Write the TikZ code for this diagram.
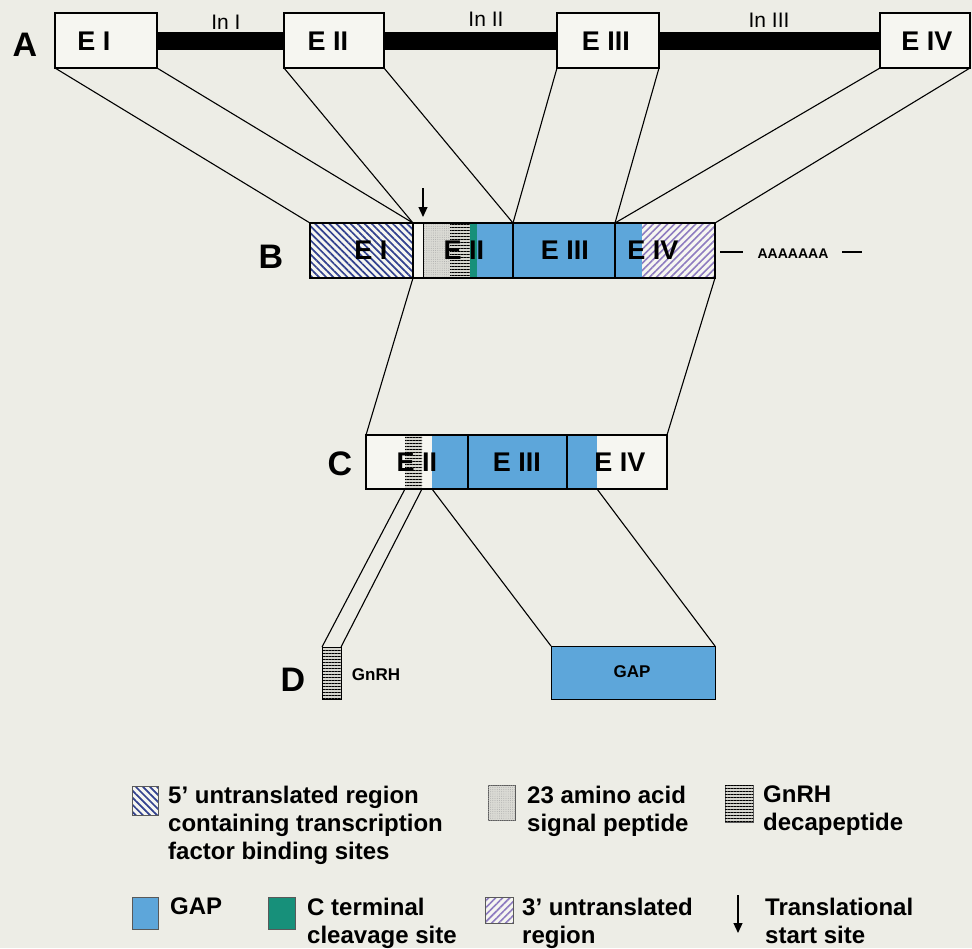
\documentclass[tikz,border=0pt]{standalone}
\usepackage{fontspec}
\setmainfont{Liberation Sans}
\usetikzlibrary{patterns.meta,arrows.meta}
\definecolor{bg}{HTML}{EDEDE6}
\definecolor{gapblue}{HTML}{5DA6DA}
\definecolor{tealc}{HTML}{17907A}
\definecolor{navyc}{HTML}{33428F}
\definecolor{lavc}{HTML}{8E7CC0}
\definecolor{boxw}{HTML}{F6F6F1}
\definecolor{stip}{HTML}{DADAD4}
\definecolor{hatchbg}{HTML}{D6D6CF}
\tikzset{
  exbox/.style={draw, line width=2.6pt, inner sep=0pt, outer sep=0pt, anchor=north west},
  dbox/.style={draw, line width=0.8pt, inner sep=0pt, outer sep=0pt, anchor=north west},
  elab/.style={font=\bfseries\fontsize{27}{27}\selectfont, inner sep=0pt},
  inlab/.style={font=\fontsize{21}{21}\selectfont, inner sep=0pt},
  biglab/.style={font=\bfseries\fontsize{34}{34}\selectfont, inner sep=0pt},
  smlab/.style={font=\bfseries\fontsize{17}{17}\selectfont, inner sep=0pt},
  legtext/.style={font=\bfseries\fontsize{24}{28}\selectfont, inner sep=0pt, anchor=north west, align=left},
  conn/.style={line width=1.1pt, black},
  intron/.style={line width=18pt, black, line cap=butt},
  startarrow/.style={line width=1.2pt, -{Triangle[length=10pt,width=9pt]}},
  utrfive/.style={pattern={Lines[angle=-45,distance=5pt,line width=1.7pt]}, pattern color=navyc},
  utrthree/.style={pattern={Lines[angle=45,distance=5pt,line width=1.6pt]}, pattern color=lavc},
  gnrhpat/.style={pattern={Lines[angle=0,distance=3pt,line width=1pt]}, pattern color=black},
  stippat/.style={pattern={Dots[distance=2.2pt,radius=0.45pt]}, pattern color=gray!70},
  swatch/.style={draw=gray!70!black, line width=0.8pt, inner sep=0pt, outer sep=0pt, anchor=north west},
}
\begin{document}
\begin{tikzpicture}[x=1pt,y=-1pt]
\fill[bg] (0,0) rectangle (972,948);
\useasboundingbox (0,0) rectangle (972,948);

% ---------- Row A ----------
\node[exbox, fill=boxw, minimum width=102pt, minimum height=55pt] (A1) at (55,13) {};
\node[exbox, fill=boxw, minimum width=100pt, minimum height=55pt] (A2) at (284,13) {};
\node[exbox, fill=boxw, minimum width=102pt, minimum height=55pt] (A3) at (557,13) {};
\node[exbox, fill=boxw, minimum width=90pt, minimum height=55pt] (A4) at (880,13) {};
\draw[intron] (A1) -- (A2);
\draw[intron] (A2) -- (A3);
\draw[intron] (A3) -- (A4);
\node[elab] (tA1) at (94,41) {E I};
\node[elab] (tA2) at (328,41) {E II};
\node[elab] (tA3) at (606,41) {E III};
\node[elab] (tA4) at (927,41) {E IV};
\node[inlab] (i1) at (226,22) {In I};
\node[inlab] (i2) at (486,19) {In II};
\node[inlab] (i3) at (769,20) {In III};
\node[biglab] (lA) at (25,45) {A};

% ---------- Row B fills ----------
\fill[boxw] (310,223) rectangle (413,278);
\fill[utrfive] (310,223) rectangle (413,278);
\fill[boxw] (413,223) rectangle (423,278);
\fill[stip] (423,223) rectangle (450,278);
\fill[stippat] (423,223) rectangle (450,278);
\fill[hatchbg] (450,223) rectangle (470,278);
\fill[gnrhpat] (450,223) rectangle (470,278);
\fill[tealc] (470,223) rectangle (477,278);
\fill[gapblue] (477,223) rectangle (642,278);
\fill[boxw] (642,223) rectangle (715,278);
\fill[utrthree] (642,223) rectangle (715,278);
\draw[line width=1pt] (423,223) -- (423,278);
\node[exbox, minimum width=103pt, minimum height=55pt] (BE1) at (310,223) {};
\node[exbox, minimum width=100pt, minimum height=55pt] (BE2) at (413,223) {};
\node[exbox, minimum width=102pt, minimum height=55pt] (BE3) at (513,223) {};
\node[exbox, minimum width=100pt, minimum height=55pt] (BE4) at (615,223) {};
\node[elab] (tB1) at (371,250) {E I};
\node[elab] (tB2) at (464,250) {E II};
\node[elab] (tB3) at (565,250) {E III};
\node[elab] (tB4) at (653,250) {E IV};
\node[biglab] (lB) at (271,257) {B};
\coordinate (st1) at (423,188);
\coordinate (st2) at (423,217);
\draw[startarrow] (st1) -- (st2);
\coordinate (pa1) at (720,252);
\coordinate (pa2) at (743,252);
\coordinate (pa3) at (842,252);
\coordinate (pa4) at (862,252);
\draw[line width=1.2pt] (pa1) -- (pa2);
\draw[line width=1.2pt] (pa3) -- (pa4);
\node[smlab, font=\bfseries\fontsize{14}{14}\selectfont] (polyA) at (793,254) {AAAAAAA};

% A -> B connectors
\draw[conn] (A1.south west) -- (BE1.north west);
\draw[conn] (A1.south east) -- (BE1.north east);
\draw[conn] (A2.south west) -- (BE2.north west);
\draw[conn] (A2.south east) -- (BE2.north east);
\draw[conn] (A3.south west) -- (BE3.north west);
\draw[conn] (A3.south east) -- (BE3.north east);
\draw[conn] (A4.south west) -- (BE4.north west);
\draw[conn] (A4.south east) -- (BE4.north east);

% ---------- Row C ----------
\fill[boxw] (366,435) rectangle (667,489);
\node[inner sep=0pt, outer sep=0pt, anchor=north west, fill=hatchbg, minimum width=17pt, minimum height=54pt] (CG) at (405,435) {};
\fill[gnrhpat] (405,435) rectangle (422,489);
\node[inner sep=0pt, outer sep=0pt, anchor=north west, fill=gapblue, minimum width=165pt, minimum height=54pt] (CB) at (432,435) {};
\node[exbox, minimum width=102pt, minimum height=54pt] (CE2) at (366,435) {};
\node[exbox, minimum width=99pt, minimum height=54pt] (CE3) at (468,435) {};
\node[exbox, minimum width=100pt, minimum height=54pt] (CE4) at (567,435) {};
\node[elab] (tC2) at (417,462) {E II};
\node[elab] (tC3) at (517,462) {E III};
\node[elab] (tC4) at (620,462) {E IV};
\node[biglab] (lC) at (340,464) {C};

% B -> C connectors
\draw[conn] (BE1.south east) -- (CE2.north west);
\draw[conn] (BE4.south east) -- (CE4.north east);

% ---------- Row D ----------
\node[dbox, fill=hatchbg, minimum width=19pt, minimum height=52pt] (DG) at (322,647) {};
\fill[gnrhpat] (322,647) rectangle (341,699);
\draw[line width=0.8pt] (DG.north west) rectangle (DG.south east);
\node[dbox, fill=gapblue, minimum width=164pt, minimum height=53pt] (DGAP) at (551,646) {};
\node[smlab] (tDG) at (376,675) {GnRH};
\node[smlab] (tDGAP) at (632,672) {GAP};
\node[biglab] (lD) at (293,680) {D};

% C -> D connectors
\draw[conn] (CG.south west) -- (DG.north west);
\draw[conn] (CG.south east) -- (DG.north east);
\draw[conn] (CB.south west) -- (DGAP.north west);
\draw[conn] (CB.south east) -- (DGAP.north east);

% ---------- Legend ----------
\node[swatch, fill=boxw, minimum width=26pt, minimum height=29pt] (s1) at (132,786) {};
\fill[utrfive] (s1.north west) rectangle (s1.south east);
\draw[draw=gray!70!black, line width=0.8pt] (s1.north west) rectangle (s1.south east);
\node[legtext] (t1) at (168,786) {5’ untranslated region\\containing transcription\\factor binding sites};

\node[swatch, fill=stip, minimum width=27pt, minimum height=35pt] (s2) at (488,785) {};
\fill[stippat] (s2.north west) rectangle (s2.south east);
\node[legtext] (t2) at (527,786) {23 amino acid\\signal peptide};

\node[swatch, fill=hatchbg, minimum width=28pt, minimum height=37pt] (s3) at (725,785) {};
\fill[gnrhpat] (s3.north west) rectangle (s3.south east);
\node[legtext] (t3) at (763,786) {GnRH\\decapeptide};

\node[swatch, fill=gapblue, minimum width=26pt, minimum height=32pt] (s4) at (132,897) {};
\node[legtext] (t4) at (170,898) {GAP};

\node[swatch, fill=tealc, minimum width=27pt, minimum height=32pt] (s5) at (268,897) {};
\node[legtext] (t5) at (307,898) {C terminal\\cleavage site};

\node[swatch, fill=boxw, minimum width=28pt, minimum height=26pt] (s6) at (485,897) {};
\fill[utrthree] (s6.north west) rectangle (s6.south east);
\draw[draw=gray!70!black, line width=0.8pt] (s6.north west) rectangle (s6.south east);
\node[legtext] (t6) at (522,898) {3’ untranslated\\region};

\coordinate (la1) at (738,895);
\coordinate (la2) at (738,933);
\draw[startarrow] (la1) -- (la2);
\node[legtext] (t7) at (765,898) {Translational\\start site};
\end{tikzpicture}
\end{document}
